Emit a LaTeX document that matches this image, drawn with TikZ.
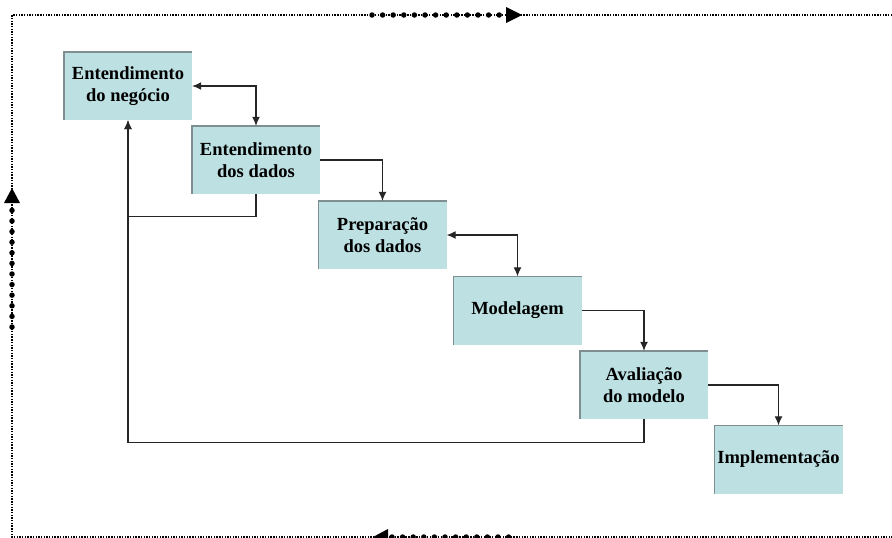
\documentclass[tikz,border=0pt]{standalone}
\usepackage{fontspec}
\setmainfont{Liberation Serif}
\usepackage{xcolor}
\usetikzlibrary{arrows.meta, math, positioning}

\definecolor{cianoclaro}{HTML}{BDE0E3}
\definecolor{bordafase}{HTML}{7F8E90}

\tikzset{
  fase/.style={fill=cianoclaro, minimum width=128pt, minimum height=68pt,
    inner sep=0pt, align=center, font=\fontsize{18.5}{21.5}\selectfont\bfseries},
  liga/.style={line width=1.1pt, draw=black!85, >={Latex[length=9pt,width=8pt]}},
  pontos/.style={line width=1.4pt, dash pattern=on 1.4pt off 1.3pt},
  gordo/.style={line width=5.5pt, line cap=round, dash pattern=on 0pt off 10.6pt}
}

\begin{document}
\begin{tikzpicture}[x=1pt, y=-1pt]
\useasboundingbox (0,0) rectangle (892,538);

% fases do processo
\node[fase] (neg)  at (128,86)    {Entendimento\\do negócio};
\node[fase] (dad)  at (256,160)   {Entendimento\\dos dados};
\node[fase] (prep) at (382.5,235) {Preparação\\dos dados};
\node[fase] (mod)  at (517.5,310.5) {Modelagem};
\node[fase] (aval) at (644,385)   {Avaliação\\do modelo};
\node[fase] (impl) at (778.5,459.5) {Implementação};

\foreach \f in {neg,dad,prep,mod,aval,impl}
  \draw[bordafase, line width=1.5pt] (\f.south west) -- (\f.north west) -- (\f.north east);

% ligacoes entre as fases
\draw[liga, <->] (neg.east) -| (dad.north);
\draw[liga, ->] (dad.east) -| (prep.north);
\draw[liga, <->] (prep.east) -| (mod.north);
\draw[liga, ->] (mod.east) -| (aval.north);
\draw[liga, ->] (aval.east) -| (impl.north);

% retornos
\draw[liga, ->] (dad.south) -- ++(0,22) -| (neg.south);
\draw[liga, ->] (aval.south) -- ++(0,23) -| (neg.south);

% ciclo externo
\draw[pontos] (892,15) -- (12,15) -- (12,537) -- (892,537);

\draw[gordo] (372,15) -- (500,15);
\fill (506,7) -- (522,15) -- (506,23) -- cycle;

\draw[gordo] (12,327) -- (12,210);
\fill (4,203) -- (12,188) -- (20,203) -- cycle;

\draw[gordo] (392,537) -- (512,537);
\fill (388,529) -- (373,537) -- (388,545) -- cycle;

\end{tikzpicture}
\end{document}
